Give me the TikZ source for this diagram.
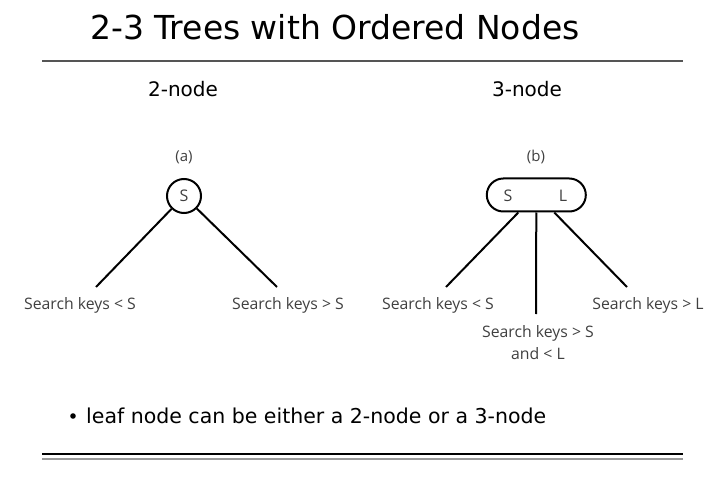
\documentclass[tikz,border=0pt]{standalone}
\usepackage{fontspec}
\setmainfont{DejaVu Sans}
\newfontfamily\labelfont{Open Sans}
\usetikzlibrary{calc}
\definecolor{labelgray}{HTML}{404040}
\definecolor{rulegray}{HTML}{555555}
\definecolor{lightrule}{HTML}{9A9A9A}
\begin{document}
\begin{tikzpicture}[x=1pt,y=-1pt,
  titletext/.style={font=\fontsize{33}{36}\selectfont, inner sep=0pt},
  headtext/.style={font=\fontsize{20}{24}\selectfont, inner sep=0pt},
  bodytext/.style={font=\fontsize{20.5}{24}\selectfont, inner sep=0pt},
  keytext/.style={font=\labelfont\fontsize{15.8}{19}\selectfont, text=labelgray, inner sep=0pt, align=center},
  captext/.style={font=\labelfont\fontsize{15}{18}\selectfont, text=labelgray, inner sep=0pt},
  keyletter/.style={font=\labelfont\fontsize{16}{19}\selectfont, text=labelgray, inner sep=0pt},
  keybox/.style={draw=black, line width=2pt},
  branch/.style={draw=black, line width=2pt}
]
\useasboundingbox (0,0) rectangle (720,481);

% heading and rules
\node[titletext, anchor=base west] (title) at (90,40) {2-3 Trees with Ordered Nodes};
\draw[rulegray, line width=1.4pt] (42,61) -- (683,61);
\draw[black, line width=2.2pt] (42,454) -- (683,454);
\draw[lightrule, line width=2pt] (42,459) -- (683,459);

\node[headtext] (h2) at (183,89) {2-node};
\node[headtext] (h3) at (527,89) {3-node};

% (a) 2-node
\node[captext] (capa) at (184,157) {(a)};
\node[keybox, keyletter, circle, minimum size=34pt] (s) at (184,196) {S};
\coordinate (la) at (96,287);
\coordinate (ra) at (277,287);
\draw[branch] (s) -- (la);
\draw[branch] (s) -- (ra);
\node[keytext] (ka1) at (80,305) {Search keys < S};
\node[keytext] (ka2) at (288,305) {Search keys > S};

% (b) 3-node
\node[captext] (capb) at (536,157) {(b)};
\node[keybox, rounded corners=16.5pt, minimum width=99pt, minimum height=33pt, inner sep=0pt] (p) at (536.3,195) {};
\node[keyletter] (ks) at (508,196) {S};
\node[keyletter] (kl) at (563,196) {L};
\coordinate (lb) at (446,287);
\coordinate (mb) at (536,314);
\coordinate (rb) at (627,287);
\draw[branch] ($(p.south)+(-18,0)$) -- (lb);
\draw[branch] (p.south) -- (mb);
\draw[branch] ($(p.south)+(18,0)$) -- (rb);
\node[keytext] (kb1) at (438,305) {Search keys < S};
\node[keytext] (kb2) at (538,343) {Search keys > S\\[3pt]and < L};
\node[keytext] (kb3) at (648,305) {Search keys > L};

% bullet line
\fill[black] (73,416) circle (2.8pt);
\node[bodytext, anchor=base west] (note) at (86,423) {leaf node can be either a 2-node or a 3-node};
\end{tikzpicture}
\end{document}
